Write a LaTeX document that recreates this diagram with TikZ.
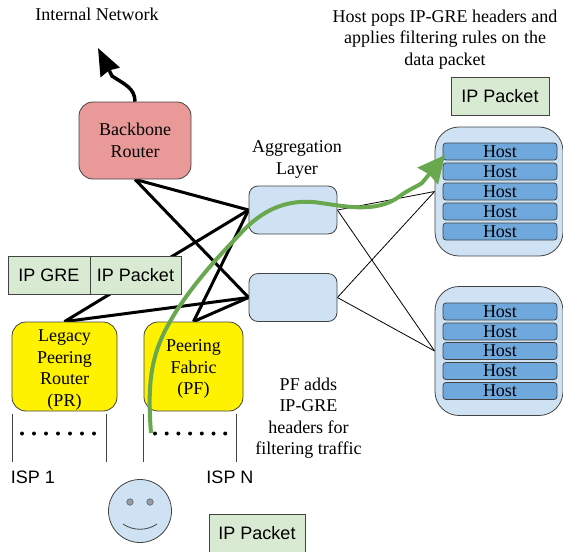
\documentclass[tikz,border=0pt]{standalone}
\usepackage{fontspec}
\setmainfont{Liberation Serif}
\setsansfont{Liberation Sans}
\usetikzlibrary{arrows.meta, backgrounds}

\definecolor{paleblue}{HTML}{CFE2F3}
\definecolor{hostblue}{HTML}{6FA8DC}
\definecolor{palered}{HTML}{EA9999}
\definecolor{palegreen}{HTML}{D9EAD3}
\definecolor{flowgreen}{HTML}{6AA84F}
\definecolor{edgegray}{HTML}{434343}

\tikzset{
  rbox/.style={draw=edgegray, line width=0.8pt, rounded corners=#1, inner sep=0pt, align=center},
  rbox/.default=14pt,
  lbl/.style={font=\fontsize{18}{21.5}\selectfont, align=center, inner sep=0pt},
  packet/.style={draw=edgegray, line width=0.8pt, fill=palegreen, inner sep=0pt, font=\sffamily\fontsize{18}{22}\selectfont},
  hostbox/.style={rbox=3pt, fill=hostblue, minimum width=114pt, minimum height=17pt, font=\fontsize{18}{18}\selectfont},
  cluster/.style={rbox=24pt, fill=paleblue, minimum width=128pt, minimum height=129pt},
  agg/.style={rbox=9pt, fill=paleblue, minimum width=88pt, minimum height=48pt},
  link/.style={line width=3pt},
  thinlink/.style={line width=0.8pt},
}

\begin{document}
\begin{tikzpicture}[x=1pt, y=-1pt]
\useasboundingbox (0,0) rectangle (563,552);

\node (backbone) at (135,140.5) [rbox, fill=palered, minimum width=112pt, minimum height=77pt, font=\fontsize{18}{22}\selectfont] {Backbone\\Router};
\node (agg1) at (293,210) [agg] {};
\node (agg2) at (293,297.5) [agg] {};
\node (pr) at (64.5,366.5) [rbox, fill=yellow, minimum width=105pt, minimum height=89pt, font=\fontsize{18}{21.5}\selectfont] {\rule{0pt}{19pt}Legacy\\Peering\\Router\\(PR)};
\node (pf) at (193.5,366.5) [rbox, fill=yellow, minimum width=99pt, minimum height=89pt, font=\fontsize{18}{21.5}\selectfont] {\rule{0pt}{17pt}Peering\\Fabric\\(PF)};
\node (grouptop) at (499,191.5) [cluster] {};
\node (groupbottom) at (499,351) [cluster] {};

\foreach \i/\y in {1/151.5, 2/171.5, 3/191.5, 4/211.5, 5/231.5}
  \node (hosta\i) at (500,\y) [hostbox] {Host};
\foreach \i/\y in {1/311.5, 2/331.5, 3/351, 4/371, 5/391}
  \node (hostb\i) at (500,\y) [hostbox] {Host};

\node (gre) at (49,275) [packet, minimum width=82pt, minimum height=38pt] {IP GRE};
\node (inner) at (135.5,275) [packet, minimum width=91pt, minimum height=38pt] {IP Packet};
\node (pkttop) at (500,96) [packet, minimum width=98pt, minimum height=38pt] {IP Packet};
\node (pktuser) at (257,533) [packet, minimum width=96pt, minimum height=38pt] {IP Packet};

\node (internal) at (97,14.5) [lbl] {Internal Network};
\node (hostnote) at (445,39.5) [lbl] {Host pops IP-GRE headers and\\applies filtering rules on the\\data packet};
\node (agglabel) at (297,159.5) [lbl] {Aggregation\\Layer};
\node (pfnote) at (308.5,418) [lbl] {PF adds\\IP-GRE\\headers for\\filtering traffic};
\node (isp1) at (33,477) [lbl, font=\sffamily\fontsize{18}{20}\selectfont] {ISP 1};
\node (ispn) at (230,477) [lbl, font=\sffamily\fontsize{18}{20}\selectfont] {ISP N};

% user
\node (user) at (140,511) [circle, draw=edgegray, line width=0.8pt, fill=paleblue, minimum size=63pt, inner sep=0pt] {};
\draw[edgegray, fill=gray!70!paleblue] (130,502) circle (3.3pt);
\draw[edgegray, fill=gray!70!paleblue] (150,502) circle (3.3pt);
\draw[edgegray, line width=0.8pt] (123,524) .. controls (133,531) and (147,531) .. (157,524);

% ISP links
\foreach \x in {12.7, 106.7, 143, 236.7}
  \draw[edgegray, line width=0.8pt] (\x,414) -- (\x,462);
\foreach \x in {0,...,6} {
  \fill (22+\x*12,433.5) circle (2pt);
  \fill (155+\x*11.7,433.5) circle (2pt);
}

\begin{scope}[on background layer]
\draw[link] (backbone.south) -- (agg1.west);
\draw[link] (backbone.south) -- (agg2.west);
\draw[link] (pr.north) -- (agg1.west);
\draw[link] (pr.north) -- (agg2.west);
\draw[link] (pf.north) -- (agg1.west);
\draw[link] (pf.north) -- (agg2.west);
\draw[thinlink] (agg1.east) -- (grouptop.west);
\draw[thinlink] (agg1.east) -- (groupbottom.west);
\draw[thinlink] (agg2.east) -- (grouptop.west);
\draw[thinlink] (agg2.east) -- (groupbottom.west);
\end{scope}

\coordinate (netend) at (98,48);
\coordinate (flowstart) at (151,433);
\coordinate (flowend) at (445,155);
\draw[-{Stealth[length=27pt,width=21pt,inset=2pt]}, line width=3.5pt] (backbone.north) .. controls (135,88) and (124,84) .. (112,76) -- (netend);
\draw[-{Stealth[length=27pt,width=26pt,inset=2pt]}, flowgreen, line width=4pt] (flowstart) .. controls (146,370) and (155,345) .. (177,310) .. controls (200,275) and (225,250) .. (240,234) .. controls (262,210) and (285,200) .. (313,202) .. controls (340,205) and (375,215) .. (400,196) .. controls (408,190) and (416,187) .. (422,183) -- (flowend);
\end{tikzpicture}
\end{document}
